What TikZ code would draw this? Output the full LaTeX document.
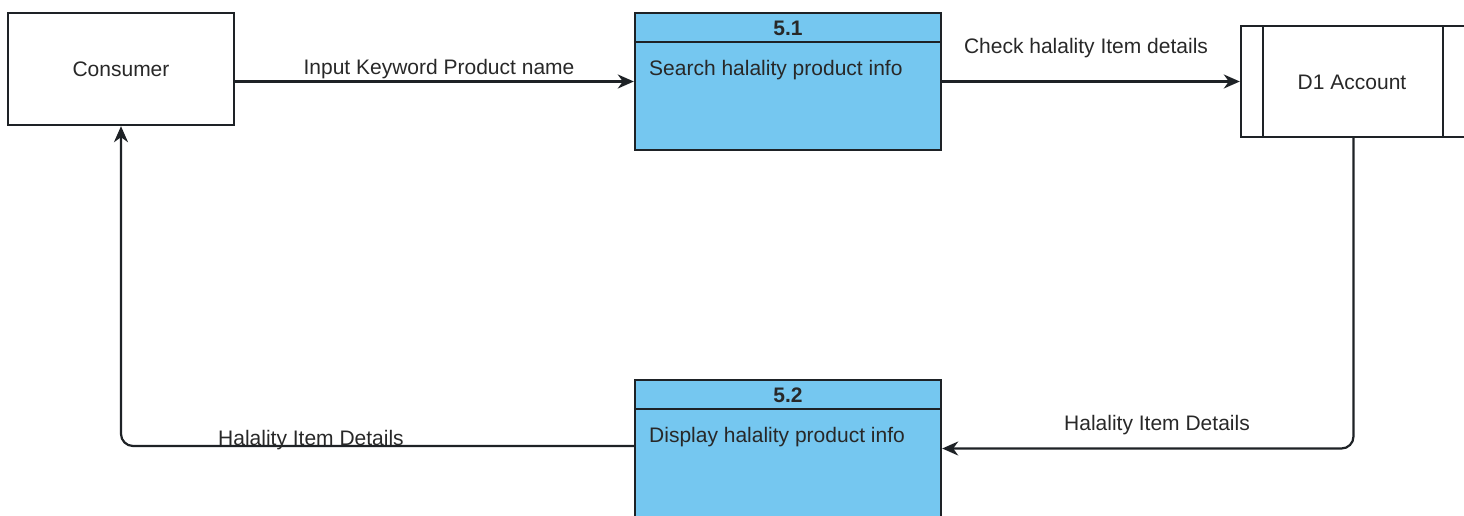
\documentclass[tikz,border=0pt]{standalone}
\usepackage{fontspec}
\setmainfont{Liberation Sans}
\usetikzlibrary{arrows.meta}

\definecolor{procfill}{RGB}{117,199,240}
\definecolor{edgecol}{RGB}{30,34,38}
\definecolor{txtcol}{RGB}{40,40,40}

\tikzset{
  every node/.style={font=\fontsize{21}{25}\selectfont, text=txtcol, inner sep=0pt},
  entity/.style={draw=edgecol, line width=2.4pt, fill=white, minimum width=226pt, minimum height=112pt},
  procbox/.style={draw=edgecol, line width=2.4pt, fill=procfill, minimum width=306pt, minimum height=137pt},
  storebox/.style={draw=edgecol, line width=2.4pt, fill=white, minimum width=225pt, minimum height=111pt},
  flow/.style={draw=edgecol, line width=2.2pt, -{Stealth[length=16pt,width=14pt,inset=5pt]}},
}

\begin{document}
\begin{tikzpicture}[x=1pt, y=-1pt]
  \useasboundingbox (0,0) rectangle (1464,516);
  \clip (0,0) rectangle (1464,516);

  % external entity
  \node[entity] (consumer) at (121,69) {Consumer};

  % process 5.1
  \node[procbox] (p51) at (788,81.5) {};
  \draw[edgecol, line width=2.4pt] (p51.north west) ++(0,30) coordinate (h51a) -- (h51a -| p51.east);
  \node[font=\fontsize{21}{25}\selectfont\bfseries] (n51) at (788,28) {5.1};
  \node[anchor=west] (t51) at (649,70) {Search halality product info};

  % process 5.2
  \node[procbox] (p52) at (788,448.5) {};
  \draw[edgecol, line width=2.4pt] (p52.north west) ++(0,30) coordinate (h52a) -- (h52a -| p52.east);
  \node[font=\fontsize{21}{25}\selectfont\bfseries] (n52) at (788,395) {5.2};
  \node[anchor=west] (t52) at (649,437) {Display halality product info};

  % data store
  \node[storebox] (d1) at (1353.5,81.5) {};
  \draw[edgecol, line width=2.4pt] (1263,26) -- (1263,137);
  \draw[edgecol, line width=2.4pt] (1443,26) -- (1443,137);
  \node (d1t) at (1352,82) {D1 Account};

  % data flows
  \draw[flow] (consumer.east |- p51.west) -- (p51.west);
  \node (l1) at (439,69) {Input Keyword Product name};
  \draw[flow] (p51.east) -- (d1.west);
  \node (l2) at (1086,48) {Check halality Item details};
  \draw[flow, rounded corners=12pt] (d1.south) |- (p52.east);
  \node (l3) at (1157,425) {Halality Item Details};
  \draw[flow, rounded corners=12pt] (p52.west |- 0,446) -| (consumer.south);
  \node (l4) at (311,440) {Halality Item Details};
\end{tikzpicture}
\end{document}
